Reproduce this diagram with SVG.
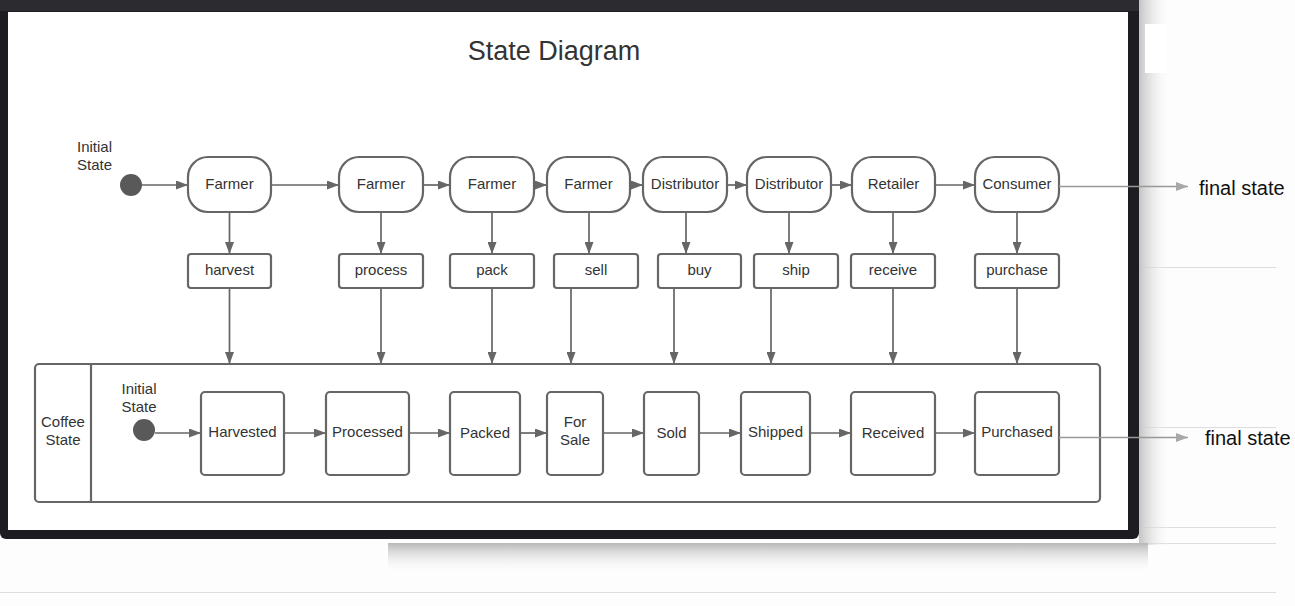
<svg xmlns="http://www.w3.org/2000/svg" width="1295" height="606" viewBox="0 0 1295 606">
  <style>
    .st { fill: #ffffff; stroke: #666666; stroke-width: 2.2; }
    .lbl { font-family: "Liberation Sans", Arial, sans-serif; font-size: 15px; fill: #333333; text-anchor: middle; }
    .title { font-family: "Liberation Sans", Arial, sans-serif; font-size: 27px; fill: #333333; text-anchor: middle; }
    .fin { font-family: "Liberation Sans", Arial, sans-serif; font-size: 20px; fill: #111111; }
    .conn { fill: none; stroke: #666666; stroke-width: 1.7; marker-end: url(#arr); }
    .conn2 { fill: none; stroke: #999999; stroke-width: 1.3; marker-end: url(#arr2); }
    .grid { stroke: #dcdde1; stroke-width: 1; }
    .dot { fill: #595959; }
  </style>
  <defs>
    <marker id="arr" markerUnits="userSpaceOnUse" markerWidth="12" markerHeight="9" refX="12" refY="4.5" orient="auto">
      <path d="M0,0 L12,4.5 L0,9 z" fill="#666666"/>
    </marker>
    <marker id="arr2" markerUnits="userSpaceOnUse" markerWidth="12" markerHeight="9" refX="12" refY="4.5" orient="auto">
      <path d="M0,0 L12,4.5 L0,9 z" fill="#a8a8a8"/>
    </marker>
    <linearGradient id="shR" x1="0" y1="0" x2="1" y2="0">
      <stop offset="0" stop-color="#c4c4c4"/>
      <stop offset="1" stop-color="#fcfcfc" stop-opacity="0"/>
    </linearGradient>
    <linearGradient id="shB" x1="0" y1="0" x2="0" y2="1">
      <stop offset="0" stop-color="#b8b8b8"/>
      <stop offset="1" stop-color="#fcfcfc" stop-opacity="0"/>
    </linearGradient>
  </defs>

  <!-- page background -->
  <rect x="0" y="0" width="1295" height="606" fill="#fdfdfd"/>
  <g id="background-lines">
    <line class="grid" x1="1140" y1="267.5" x2="1276" y2="267.5"/>
    <line class="grid" x1="1140" y1="427.5" x2="1276" y2="427.5"/>
    <line class="grid" x1="1140" y1="527.5" x2="1276" y2="527.5"/>
    <line class="grid" x1="388" y1="543.5" x2="1276" y2="543.5"/>
    <line class="grid" x1="0" y1="592.5" x2="1276" y2="592.5"/>
  </g>
  <rect x="1139" y="0" width="32" height="545" fill="url(#shR)"/>
  <rect x="388" y="543" width="760" height="30" fill="url(#shB)"/>
  <rect x="1145" y="24" width="22" height="49" fill="#ffffff"/>

  <!-- window frame -->
  <g id="window">
    <rect x="0" y="-6" width="1139" height="545" rx="6" fill="#1d1d21"/>
    <rect x="0" y="0" width="1139" height="11" fill="#2c2b30"/>
    <rect x="8" y="12" width="1120" height="518" fill="#ffffff"/>
  </g>

  <text class="title" x="554" y="60">State Diagram</text>

  <!-- connectors -->
  <g id="connectors">
    <line class="conn" x1="142" y1="185" x2="188" y2="185"/>
    <line class="conn" x1="271" y1="185" x2="339" y2="185"/>
    <line class="conn" x1="423" y1="185" x2="450" y2="185"/>
    <line class="conn" x1="534" y1="185" x2="547" y2="185"/>
    <line class="conn" x1="630" y1="185" x2="643" y2="185"/>
    <line class="conn" x1="727" y1="185" x2="747" y2="185"/>
    <line class="conn" x1="831" y1="185" x2="852" y2="185"/>
    <line class="conn" x1="935" y1="185" x2="975" y2="185"/>
    <line class="conn" x1="229.5" y1="212" x2="229.5" y2="254"/>
    <line class="conn" x1="381" y1="212" x2="381" y2="254"/>
    <line class="conn" x1="492" y1="212" x2="492" y2="254"/>
    <line class="conn" x1="589" y1="212" x2="589" y2="254"/>
    <line class="conn" x1="686" y1="212" x2="686" y2="254"/>
    <line class="conn" x1="789" y1="212" x2="789" y2="254"/>
    <line class="conn" x1="893" y1="212" x2="893" y2="254"/>
    <line class="conn" x1="1017" y1="212" x2="1017" y2="254"/>
    <line class="conn" x1="229.5" y1="288" x2="229.5" y2="364"/>
    <line class="conn" x1="381" y1="288" x2="381" y2="364"/>
    <line class="conn" x1="492" y1="288" x2="492" y2="364"/>
    <line class="conn" x1="571" y1="288" x2="571" y2="364"/>
    <line class="conn" x1="674" y1="288" x2="674" y2="364"/>
    <line class="conn" x1="771" y1="288" x2="771" y2="364"/>
    <line class="conn" x1="893" y1="288" x2="893" y2="364"/>
    <line class="conn" x1="1017" y1="288" x2="1017" y2="364"/>
  </g>

  <g id="initial-top">
    <text class="lbl" x="94.5" y="152">Initial</text>
    <text class="lbl" x="94.5" y="170">State</text>
    <circle class="dot" cx="131" cy="185" r="11"/>
  </g>

  <g id="farmer1"><rect class="st" x="188" y="157" width="83" height="55" rx="20"/><text class="lbl" x="229.5" y="189">Farmer</text></g>
  <g id="farmer2"><rect class="st" x="339" y="157" width="84" height="55" rx="20"/><text class="lbl" x="381" y="189">Farmer</text></g>
  <g id="farmer3"><rect class="st" x="450" y="157" width="84" height="55" rx="20"/><text class="lbl" x="492" y="189">Farmer</text></g>
  <g id="farmer4"><rect class="st" x="547" y="157" width="83" height="55" rx="20"/><text class="lbl" x="588.5" y="189">Farmer</text></g>
  <g id="distributor1"><rect class="st" x="643" y="157" width="84" height="55" rx="20"/><text class="lbl" x="685" y="189">Distributor</text></g>
  <g id="distributor2"><rect class="st" x="747" y="157" width="84" height="55" rx="20"/><text class="lbl" x="789" y="189">Distributor</text></g>
  <g id="retailer"><rect class="st" x="852" y="157" width="83" height="55" rx="20"/><text class="lbl" x="893.5" y="189">Retailer</text></g>
  <g id="consumer"><rect class="st" x="975" y="157" width="84" height="55" rx="20"/><text class="lbl" x="1017" y="189">Consumer</text></g>

  <g id="harvest"><rect class="st" x="188" y="254" width="83" height="34" rx="3"/><text class="lbl" x="229.5" y="275">harvest</text></g>
  <g id="process"><rect class="st" x="339" y="254" width="84" height="34" rx="3"/><text class="lbl" x="381" y="275">process</text></g>
  <g id="pack"><rect class="st" x="450" y="254" width="84" height="34" rx="3"/><text class="lbl" x="492" y="275">pack</text></g>
  <g id="sell"><rect class="st" x="554" y="254" width="84" height="34" rx="3"/><text class="lbl" x="596" y="275">sell</text></g>
  <g id="buy"><rect class="st" x="658" y="254" width="83" height="34" rx="3"/><text class="lbl" x="699.5" y="275">buy</text></g>
  <g id="ship"><rect class="st" x="754" y="254" width="84" height="34" rx="3"/><text class="lbl" x="796" y="275">ship</text></g>
  <g id="receive"><rect class="st" x="851" y="254" width="84" height="34" rx="3"/><text class="lbl" x="893" y="275">receive</text></g>
  <g id="purchase"><rect class="st" x="975" y="254" width="84" height="34" rx="3"/><text class="lbl" x="1017" y="275">purchase</text></g>

  <g id="coffee-state">
    <rect class="st" x="35" y="364" width="1065" height="138" rx="4"/>
    <line x1="91" y1="364" x2="91" y2="502" stroke="#666666" stroke-width="2.2"/>
    <text class="lbl" x="63" y="427">Coffee</text>
    <text class="lbl" x="63" y="445">State</text>
  </g>

  <g id="connectors-inner">
    <line class="conn" x1="155" y1="433" x2="201" y2="433"/>
    <line class="conn" x1="284" y1="433" x2="326" y2="433"/>
    <line class="conn" x1="409" y1="433" x2="450" y2="433"/>
    <line class="conn" x1="520" y1="433" x2="547" y2="433"/>
    <line class="conn" x1="603" y1="433" x2="644" y2="433"/>
    <line class="conn" x1="699" y1="433" x2="741" y2="433"/>
    <line class="conn" x1="810" y1="433" x2="851" y2="433"/>
    <line class="conn" x1="935" y1="433" x2="975" y2="433"/>
  </g>

  <g id="initial-inner">
    <text class="lbl" x="139" y="394">Initial</text>
    <text class="lbl" x="139" y="412">State</text>
    <circle class="dot" cx="144" cy="430" r="11"/>
  </g>

  <g id="harvested"><rect class="st" x="201" y="392" width="83" height="83" rx="4"/><text class="lbl" x="242.5" y="437">Harvested</text></g>
  <g id="processed"><rect class="st" x="326" y="392" width="83" height="83" rx="4"/><text class="lbl" x="367.5" y="437">Processed</text></g>
  <g id="packed"><rect class="st" x="450" y="392" width="70" height="83" rx="4"/><text class="lbl" x="485" y="438">Packed</text></g>
  <g id="for-sale"><rect class="st" x="547" y="392" width="56" height="83" rx="4"/><text class="lbl" x="575" y="427">For</text><text class="lbl" x="575" y="445">Sale</text></g>
  <g id="sold"><rect class="st" x="644" y="392" width="55" height="83" rx="4"/><text class="lbl" x="671.5" y="438">Sold</text></g>
  <g id="shipped"><rect class="st" x="741" y="392" width="69" height="83" rx="4"/><text class="lbl" x="775.5" y="437">Shipped</text></g>
  <g id="received"><rect class="st" x="851" y="392" width="84" height="83" rx="4"/><text class="lbl" x="893" y="438">Received</text></g>
  <g id="purchased"><rect class="st" x="975" y="392" width="84" height="83" rx="4"/><text class="lbl" x="1017" y="437">Purchased</text></g>

  <g id="final-connectors">
    <line class="conn2" x1="1059" y1="186.5" x2="1188" y2="186.5"/>
    <line class="conn2" x1="1059" y1="437.5" x2="1188" y2="437.5"/>
  </g>
  <g id="final-top"><text class="fin" x="1199" y="195">final state</text></g>
  <g id="final-bottom"><text class="fin" x="1205" y="445">final state</text></g>
</svg>
